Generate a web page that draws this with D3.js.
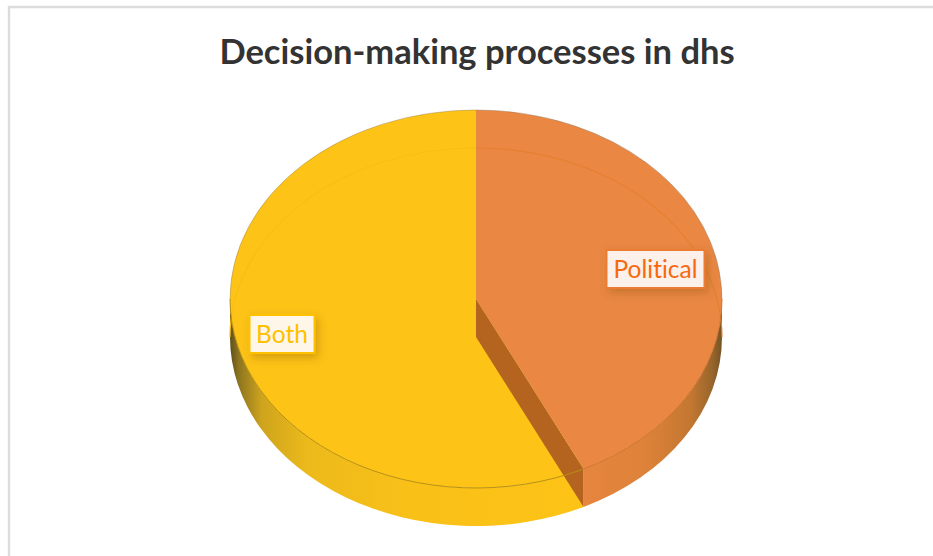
<!DOCTYPE html>
<html>
<head>
<meta charset="utf-8">
<script src="https://cdn.jsdelivr.net/npm/d3@7/dist/d3.min.js"></script>
<style>
  html, body { margin: 0; padding: 0; background: #fff; }
  svg { display: block; }
  text { font-family: Lato, "Open Sans", sans-serif; font-variant-ligatures: none; }
</style>
</head>
<body>
<svg id="chart" width="933" height="556"></svg>
<script>
// Chart content
const chartTitle = "Decision-making processes in dhs";
const categories = ["Political", "Both"];
const shares = [42.8, 57.2];

// Colours per category
const faceColors = ["#e98743", "#fdc316"];
const ringColors = ["#e4812f", "#f8be14"];
const labelInk = ["#f7690f", "#ffc000"];
const labelFill = ["#fbf0ea", "#fef6e8"];
const labelEdge = ["#ec7c30", "#ffc000"];
const labelBoxes = [
  { x: 606.5, y: 250, w: 98, h: 38 },
  { x: 249.5, y: 315, w: 65, h: 38 }
];

// Tilted disc: drawn as a circle, squashed vertically
const cx = 476, cy = 299, radius = 246, squash = 189 / 246;
const depth = 38 / squash;

const svg = d3.select("#chart");
const defs = svg.append("defs");

function sideGradient(id, stops) {
  const g = defs.append("linearGradient").attr("id", id)
    .attr("x1", 0).attr("x2", 1).attr("y1", 0).attr("y2", 0);
  stops.forEach(([o, c]) => g.append("stop").attr("offset", o).attr("stop-color", c));
}
sideGradient("wallPolitical", [[0, "#e6853f"], [0.45, "#de8239"], [0.78, "#c27731"], [0.93, "#98652b"], [1, "#755326"]]);
sideGradient("wallBoth", [[0, "#5f5018"], [0.025, "#8d7520"], [0.09, "#cfa41d"], [0.22, "#ecba1b"], [0.5, "#f9c018"], [1, "#fdc316"]]);

const shadow = defs.append("filter").attr("id", "labelShadow")
  .attr("x", "-20%").attr("y", "-30%").attr("width", "150%").attr("height", "170%");
shadow.append("feDropShadow").attr("dx", 3).attr("dy", 4).attr("stdDeviation", 4)
  .attr("flood-color", "#7a4a00").attr("flood-opacity", 0.3);

// Chart frame: only the top and left edges fall inside the window
svg.append("path").attr("d", "M9,556V7H933")
  .attr("fill", "none").attr("stroke", "#dcdcdc").attr("stroke-width", 2.4);

svg.append("text").attr("x", 477).attr("y", 64)
  .attr("text-anchor", "middle").attr("font-size", 34.5).attr("font-weight", 700)
  .attr("fill", "#333333").text(chartTitle);

const pie = d3.pie().sort(null).value(d => d);
const slices = pie(shares);
const arc = d3.arc().innerRadius(0).outerRadius(radius);

const disc = svg.append("g")
  .attr("transform", `translate(${cx},${cy}) scale(1,${squash})`);

// d3.pie measures from 12 o'clock, d3.path from 3 o'clock
const toPath = a => a - Math.PI / 2;

// Outer side wall, only the part facing the viewer (lower half of the disc)
function wallPath(a0, a1) {
  const p = d3.path();
  p.arc(0, 0, radius, toPath(a0), toPath(a1));
  p.arc(0, depth, radius, toPath(a1), toPath(a0), true);
  p.closePath();
  return p.toString();
}
const frontStart = Math.PI / 2, frontEnd = 3 * Math.PI / 2;
const wallIds = ["wallPolitical", "wallBoth"];
slices.forEach((s, i) => {
  disc.append("path")
    .attr("d", wallPath(Math.max(s.startAngle, frontStart), Math.min(s.endAngle, frontEnd)))
    .attr("fill", `url(#${wallIds[i]})`);
});

// Top faces
disc.selectAll("path.face").data(slices).join("path")
  .attr("class", "face")
  .attr("d", arc)
  .attr("fill", (d, i) => faceColors[i]);

// Faint back rim of the lower disc, showing through the translucent top
slices.forEach((s, i) => {
  const a0 = i === 0 ? s.startAngle : 3 * Math.PI / 2;
  const a1 = i === 0 ? Math.PI / 2 : 2 * Math.PI;
  const p = d3.path();
  p.arc(0, depth, radius, toPath(a0), toPath(a1));
  disc.append("path").attr("d", p.toString())
    .attr("fill", "none").attr("stroke", ringColors[i]).attr("stroke-width", 1.2)
    .attr("vector-effect", "non-scaling-stroke");
});

// Cut face of the Political slice, where it meets the Both slice
const cut = slices[0].endAngle;
const cutX = radius * Math.cos(toPath(cut));
const cutY = radius * Math.sin(toPath(cut));
const cutPath = d3.path();
cutPath.moveTo(0, 0);
cutPath.lineTo(cutX, cutY);
cutPath.lineTo(cutX, cutY + depth);
cutPath.lineTo(0, depth);
cutPath.closePath();
disc.append("path").attr("d", cutPath.toString()).attr("fill", "#b4641f");

// Front rim highlight where the top face meets the wall
const rimColors = ["#cf7430", "#b78f14"];
slices.forEach((s, i) => {
  const p = d3.path();
  p.arc(0, 0, radius, toPath(Math.max(s.startAngle, frontStart)), toPath(Math.min(s.endAngle, frontEnd)));
  disc.append("path").attr("d", p.toString())
    .attr("fill", "none").attr("stroke", rimColors[i]).attr("stroke-width", 1)
    .attr("vector-effect", "non-scaling-stroke");
});

// Soft dark outline along the far edge
const farEdge = d3.path();
farEdge.arc(0, 0, radius, toPath(-Math.PI / 2), toPath(Math.PI / 2));
disc.append("path").attr("d", farEdge.toString())
  .attr("fill", "none").attr("stroke", "#7d6a50").attr("stroke-opacity", 0.35).attr("stroke-width", 1)
  .attr("vector-effect", "non-scaling-stroke");

// Data labels
categories.forEach((name, i) => {
  const b = labelBoxes[i];
  const g = svg.append("g");
  g.append("rect").attr("x", b.x).attr("y", b.y).attr("width", b.w).attr("height", b.h)
    .attr("fill", labelFill[i]).attr("stroke", labelEdge[i]).attr("stroke-width", 2)
    .attr("filter", "url(#labelShadow)");
  g.append("text").attr("x", b.x + b.w / 2).attr("y", b.y + 27.5)
    .attr("text-anchor", "middle").attr("font-size", 24.5).attr("fill", labelInk[i]).text(name);
});
</script>
</body>
</html>
